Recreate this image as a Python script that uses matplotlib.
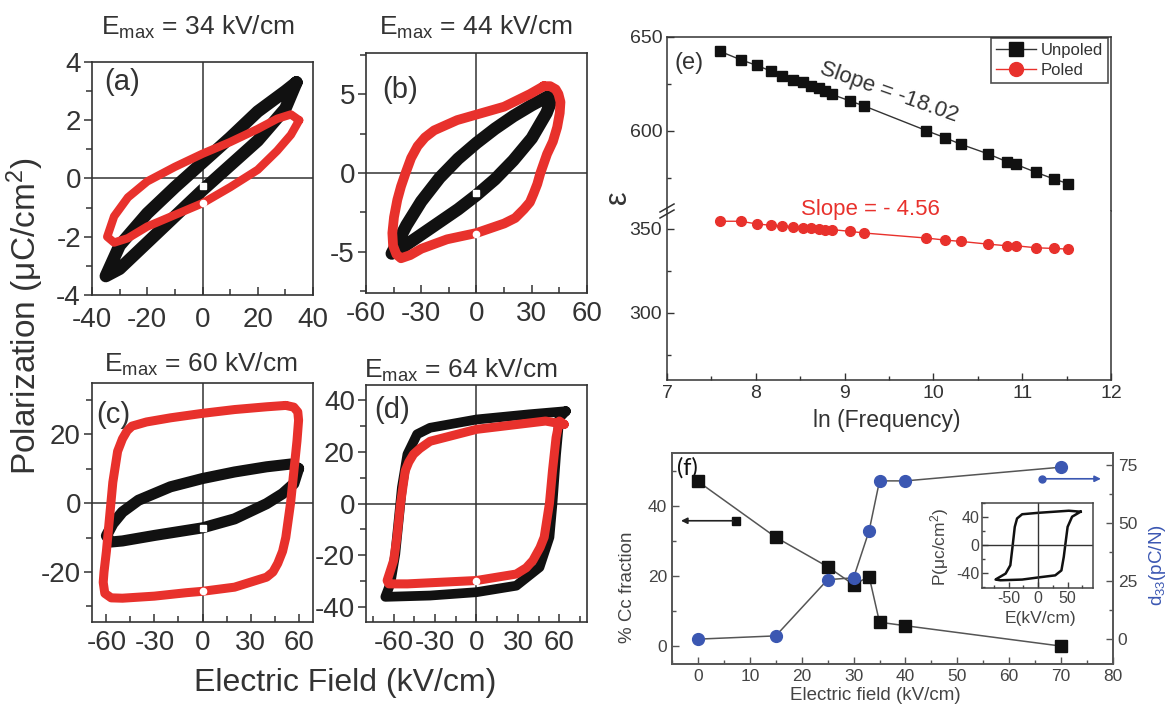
import matplotlib
matplotlib.use("Agg")
import matplotlib.pyplot as plt
from matplotlib.lines import Line2D
from matplotlib.ticker import MultipleLocator

W, H = 1171, 704

plt.rcParams['font.family'] = ['Liberation Sans', 'DejaVu Sans']
plt.rcParams['mathtext.default'] = 'regular'
plt.rcParams['axes.unicode_minus'] = False

RED = '#e8312c'
BLK = '#111111'
BLUE = '#3b57b2'
TXT = '#333333'

# ---------------- data ----------------
# P-E loops, E in kV/cm, P in uC/cm2 ; each list runs round the loop once
a_unp_E = [34, 30, 20, 10, 0, -10, -20, -30, -35, -30, -20, -10, 0, 10, 20, 30, 34]
a_unp_P = [3.3, 3.0, 2.3, 1.4, 0.55, -0.3, -1.2, -2.3, -3.35, -3.1, -2.2, -1.3, -0.4, 0.45, 1.3, 2.4, 3.3]
a_pol_E = [35, 32, 27, 20, 10, 0, -10, -20, -27, -32, -34.5, -32, -27, -20, -10, 0, 10, 20, 27, 32, 35]
a_pol_P = [2.0, 2.2, 2.05, 1.7, 1.25, 0.85, 0.4, -0.1, -0.65, -1.3, -2.0, -2.2, -2.05, -1.65, -1.25,
           -0.85, -0.3, 0.3, 0.95, 1.5, 2.0]

b_unp_E = [42, 38, 30, 20, 10, 0, -10, -20, -30, -38, -46, -40, -30, -20, -10, 0, 10, 20, 30, 38, 42]
b_unp_P = [5.0, 4.8, 4.3, 3.6, 2.8, 1.9, 0.9, -0.3, -1.8, -3.3, -5.1, -4.7, -3.9, -3.1, -2.3, -1.4,
           -0.4, 0.8, 2.2, 3.8, 5.0]
b_pol_E = [36.5, 29, 15, 0, -10.5, -23, -28, -32, -35.5, -38.5, -41, -43, -44.8, -45.7, -45.3, -43.5,
           -41, -36, -30, -16, 0, 15, 21, 25.7, 29, 31, 33, 34.7, 38.3, 41.5, 43.8, 45.2, 45.6, 44.5,
           43, 40, 36.5]
b_pol_P = [5.5, 5.0, 4.2, 3.7, 3.35, 2.7, 2.25, 1.7, 0.95, 0.0, -0.85, -1.7, -2.8, -3.8, -4.6, -5.15,
           -5.4, -5.2, -4.8, -4.2, -3.8, -3.2, -2.85, -2.3, -1.85, -1.3, -0.7, 0.0, 1.2, 2.0, 2.9,
           3.8, 4.5, 5.0, 5.3, 5.5, 5.5]

c_unp_E = [60, 55, 40, 20, 0, -20, -40, -50, -56, -60, -57, -50, -30, 0, 20, 40, 50, 57, 60]
c_unp_P = [10.0, 11.3, 10.5, 9.0, 7.1, 4.7, 0.8, -2.6, -6.0, -9.5, -11.3, -11.0, -9.4, -7.2, -4.6,
           -0.2, 2.7, 5.6, 10.0]
c_pol_E = [52, 40, 20, 0, -20, -35, -44, -47, -50, -53, -56, -58, -60, -61.5, -62, -61, -57, -50,
           -30, -10, 0, 20, 40, 44, 47, 50, 52, 55, 57, 59, 60, 59.5, 57, 52]
c_pol_P = [28.3, 27.9, 27.1, 26.0, 24.7, 23.5, 22.3, 21.0, 18.6, 15.0, 6.0, -4.0, -14.0, -20.0,
           -23.0, -26.2, -27.5, -27.6, -27.0, -26.0, -25.6, -24.4, -21.5, -20.0, -17.5, -14.0,
           -10.0, 0.0, 9.0, 18.0, 24.0, 26.4, 27.8, 28.3]

d_unp_E = [64.7, 38.4, 0, -33.6, -43, -50, -54, -56.4, -58.8, -62.4, -66, -33.6, 0, 28.8, 45.6,
           52.8, 55, 57.6, 60, 64.7]
d_unp_P = [35.6, 34.4, 32.4, 29.2, 26.7, 19, 6.2, -6.7, -19.5, -31, -36, -35.5, -34.2, -31.7,
           -24.6, -13, 0, 19, 33, 35.6]
d_pol_E = [63.5, 50, 0, -33.6, -41, -45.6, -49, -51.6, -55, -57.6, -60, -64.7, -63.5, -50, 0, 28.8,
           36, 40.8, 46, 49, 52.8, 55, 57.6, 60, 63.5]
d_pol_P = [30.5, 31.8, 28.6, 24, 21.2, 19, 16.0, 12.6, 0, -13, -22, -29.7, -31, -31, -29.7, -27.2,
           -24.8, -22, -17, -13, 0, 12.6, 25.4, 31.8, 30.5]

# starting points (white marks at E = 0)
start_unp_P = [-0.25, -1.25, -7.2, None]
start_pol_P = [-0.85, -3.85, -25.6, -29.7]
emax_values = [34, 44, 60, 64]

# (e) permittivity vs ln(frequency)
ln_freq = [7.60, 7.83, 8.01, 8.17, 8.30, 8.42, 8.53, 8.62, 8.71, 8.78, 8.86, 9.06, 9.22,
           9.92, 10.13, 10.31, 10.61, 10.83, 10.93, 11.16, 11.36, 11.52]
eps_unpoled = [642.3, 637.9, 634.9, 631.9, 629.4, 627.2, 625.8, 624.0, 622.6, 621.2, 619.4,
               616.0, 613.3, 600.2, 596.4, 592.9, 587.9, 583.6, 582.2, 577.9, 574.4, 571.9]
eps_poled = [354.6, 354.6, 353.0, 352.2, 351.8, 351.4, 350.8, 350.4, 350.0, 349.6, 349.6,
             348.6, 347.6, 344.6, 343.4, 342.6, 341.0, 340.0, 340.0, 338.8, 338.4, 338.0]

# (f) Cc fraction and d33 vs poling field
pole_field = [0, 15, 25, 30, 33, 35, 40, 70]
cc_fraction = [46.9, 31.0, 22.6, 17.5, 19.8, 6.8, 5.8, 0.0]
d33 = [0.0, 1.4, 25.6, 26.4, 46.7, 68.1, 68.1, 74.0]

# inset P-E loop of (f)
inset_E = [72, 52, 0, -27, -35.6, -39.5, -43, -47, -55, -69.5, -72, -64, -27, 0, 29, 39.5, 43.5,
           46, 50, 57.6, 72]
inset_P = [47.6, 49, 46, 44, 38, 26, 0, -28.6, -40.5, -47.6, -49, -50, -49, -46, -43, -36, -16.7,
           0, 26, 40.5, 47.6]


def px(l, t, r, b):
    # pixel box of the reference -> figure fraction
    return [l / W, 1 - b / H, (r - l) / W, (b - t) / H]


def ftext(x, y, s, **kw):
    fig.text(x / W, 1 - y / H, s, **kw)


def loop_axes(rect, xlim, ylim, xmaj, ymaj, xpad=6):
    ax = fig.add_axes(px(*rect))
    ax.set_xlim(xlim)
    ax.set_ylim(ylim)
    ax.xaxis.set_major_locator(MultipleLocator(xmaj))
    ax.xaxis.set_minor_locator(MultipleLocator(xmaj / 2))
    ax.yaxis.set_major_locator(MultipleLocator(ymaj))
    ax.yaxis.set_minor_locator(MultipleLocator(ymaj / 2))
    ax.tick_params(axis='x', which='both', direction='in', labelsize=20, pad=xpad,
                   labelcolor=TXT, color=TXT)
    ax.tick_params(axis='y', which='both', direction='out', labelsize=20, pad=2,
                   labelcolor=TXT, color=TXT)
    ax.tick_params(which='major', length=6, width=1.1)
    ax.tick_params(which='minor', length=4, width=1.1)
    for s in ax.spines.values():
        s.set_color(TXT)
        s.set_linewidth(1.2)
    ax.axhline(0, color=TXT, lw=1.1, zorder=1)
    ax.axvline(0, color=TXT, lw=1.1, zorder=1)
    return ax


fig = plt.figure(figsize=(W / 100, H / 100), dpi=100)

# ---------------- (a)-(d) hysteresis loops ----------------
loops = [
    ((92, 62, 313, 295), (-40, 40), (-4, 4), 20, 2, a_unp_E, a_unp_P, a_pol_E, a_pol_P, 9, 6, 9),
    ((366, 53, 587, 293), (-60, 60), (-7.6, 7.6), 30, 5, b_unp_E, b_unp_P, b_pol_E, b_pol_P, 9, 7, 6),
    ((92, 383, 313, 622), (-69, 69), (-34.5, 34.8), 30, 20, c_unp_E, c_unp_P, c_pol_E, c_pol_P, 8, 6.5, 6),
    ((366, 385, 587, 622), (-80, 80), (-45.7, 45.7), 30, 20, d_unp_E, d_unp_P, d_pol_E, d_pol_P, 7, 6.5, 6),
]
for i, (rect, xl, yl, xm, ym, uE, uP, pE, pP, lw_u, lw_p, xpad) in enumerate(loops):
    ax = loop_axes(rect, xl, yl, xm, ym, xpad)
    ax.plot(uE, uP, color=BLK, lw=lw_u, solid_joinstyle='round', solid_capstyle='round', zorder=2)
    ax.plot(pE, pP, color=RED, lw=lw_p, solid_joinstyle='round', solid_capstyle='round', zorder=3)
    if start_unp_P[i] is not None:
        ax.plot([0], [start_unp_P[i]], 's', color='white', ms=4, zorder=4)
    ax.plot([0], [start_pol_P[i]], 'o', color='white', ms=4.5, zorder=4)

# titles and panel letters
title_pos = [(198, 35), (476, 35), (201, 372), (461, 378)]
for (x, y), v in zip(title_pos, emax_values):
    ftext(x, y, 'E$_{max}$ = %d kV/cm' % v, fontsize=19, color=TXT, ha='center', va='baseline')
for (x, y), lab in zip([(122, 82), (400, 90), (113, 415), (392, 410)], ['(a)', '(b)', '(c)', '(d)']):
    ftext(x, y, lab, fontsize=21, color=TXT, ha='center', va='center')

ftext(25, 316, 'Polarization (μC/cm$^2$)', fontsize=24, color=TXT, rotation=90,
      ha='center', va='center')
ftext(345, 683, 'Electric Field (kV/cm)', fontsize=23, color=TXT, ha='center', va='center')

# ---------------- (e) permittivity, broken y axis ----------------
ax_t = fig.add_axes(px(667, 37, 1111, 211))
ax_b = fig.add_axes(px(667, 211, 1111, 380))
ax_t.plot(ln_freq, eps_unpoled, color='#333333', lw=1, marker='s', ms=6.5, mfc=BLK, mec=BLK)
ax_b.plot(ln_freq, eps_poled, color=RED, lw=1, marker='o', ms=7, mfc=RED, mec=RED)
ax_t.set_ylim(557.4, 650)
ax_b.set_ylim(260.1, 360.7)
for ax in (ax_t, ax_b):
    ax.set_xlim(7, 12)
    ax.xaxis.set_major_locator(MultipleLocator(1))
    ax.xaxis.set_minor_locator(MultipleLocator(0.5))
    ax.yaxis.set_major_locator(MultipleLocator(50))
    ax.yaxis.set_minor_locator(MultipleLocator(25))
    ax.tick_params(which='both', direction='in', labelsize=14, labelcolor=TXT, color=TXT, width=1)
    ax.tick_params(which='major', length=5)
    ax.tick_params(which='minor', length=3)
    for s in ax.spines.values():
        s.set_color(TXT)
        s.set_linewidth(1.1)
ax_t.spines['bottom'].set_visible(False)
ax_t.tick_params(axis='x', which='both', bottom=False, labelbottom=False)
ax_b.spines['top'].set_visible(False)

# break marks on left spine
for dy in (-3, 3):
    x0, y0 = 667, 211 + dy
    fig.add_artist(Line2D([(x0 - 7) / W, (x0 + 7) / W], [1 - (y0 + 4) / H, 1 - (y0 - 4) / H],
                          color=TXT, lw=1.1))

leg = ax_t.legend(handles=[Line2D([], [], color='#333333', lw=1, marker='s', ms=10, mfc=BLK, mec=BLK),
                           Line2D([], [], color=RED, lw=1, marker='o', ms=10, mfc=RED, mec=RED)],
                  labels=['Unpoled', 'Poled'], loc='upper right', bbox_to_anchor=(0.994, 0.995),
                  borderaxespad=0, fontsize=12, fancybox=False, edgecolor='#222222',
                  handlelength=2.4, handletextpad=0.3, borderpad=0.3, labelspacing=0.3)
leg.get_frame().set_linewidth(1.2)
for t in leg.get_texts():
    t.set_color(TXT)

ftext(689, 63, '(e)', fontsize=17, color=TXT, ha='center', va='center')
ftext(889, 92, 'Slope = -18.02', fontsize=16, color=TXT, rotation=-19.5,
      ha='center', va='center', rotation_mode='anchor')
ftext(870, 209, 'Slope = - 4.56', fontsize=16, color=RED, ha='center', va='center')
ftext(618, 197, 'ε', fontsize=22, color=TXT, rotation=90, ha='center', va='center')
ftext(887, 421, 'ln (Frequency)', fontsize=16.5, color=TXT, ha='center', va='center')

# ---------------- (f) Cc fraction and d33 ----------------
ax_f = fig.add_axes(px(672, 453, 1113, 664))
ax_r = ax_f.twinx()
ax_f.plot(pole_field, cc_fraction, color='#555555', lw=1.1, marker='s', ms=8, mfc=BLK, mec=BLK, zorder=3)
ax_r.plot(pole_field, d33, color='#555555', lw=1.1, marker='o', ms=8.5, mfc=BLUE, mec=BLUE, zorder=3)
ax_f.set_xlim(-5, 80)
ax_f.set_ylim(-5.1, 55)
ax_r.set_ylim(-10.7, 80.1)
ax_f.xaxis.set_major_locator(MultipleLocator(10))
ax_f.xaxis.set_minor_locator(MultipleLocator(5))
ax_f.yaxis.set_major_locator(MultipleLocator(20))
ax_f.yaxis.set_minor_locator(MultipleLocator(10))
ax_r.yaxis.set_major_locator(MultipleLocator(25))
ax_r.yaxis.set_minor_locator(MultipleLocator(12.5))
for ax in (ax_f, ax_r):
    ax.tick_params(which='both', direction='in', labelsize=12.5, labelcolor='#444444',
                   color='#555555', width=1)
    ax.tick_params(which='major', length=5)
    ax.tick_params(which='minor', length=3)
    for s in ax.spines.values():
        s.set_color('#555555')
        s.set_linewidth(1.2)

# direction arrows
ax_f.plot([7.3], [35.7], 's', color=BLK, ms=6)
ax_f.annotate('', xy=(-3.8, 35.7), xytext=(7.3, 35.7),
              arrowprops=dict(arrowstyle='-|>', color='#222222', lw=1.2, mutation_scale=9))
ax_r.plot([66.3], [69.0], 'o', color=BLUE, ms=5)
ax_r.annotate('', xy=(78.2, 69.0), xytext=(66.3, 69.0),
              arrowprops=dict(arrowstyle='-|>', color=BLUE, lw=1.2, mutation_scale=9))

ftext(687, 468, '(f)', fontsize=17, color='#111111', family=['Lato', 'DejaVu Sans'],
      ha='center', va='center')
ftext(628, 587, '% Cc fraction', fontsize=13.5, color='#444444', rotation=90, ha='center', va='center')
ftext(1158, 565, 'd$_{33}$(pC/N)', fontsize=13.5, color=BLUE, rotation=90, ha='center', va='center')
ftext(875, 695, 'Electric field (kV/cm)', fontsize=13.5, color='#444444', ha='center', va='center')

# inset loop
ax_i = fig.add_axes(px(982, 503, 1093, 588))
ax_i.plot(inset_E, inset_P, color=BLK, lw=1.8)
ax_i.axhline(0, color='#333333', lw=1)
ax_i.axvline(0, color='#333333', lw=1)
ax_i.set_xlim(-95, 93)
ax_i.set_ylim(-61, 60)
ax_i.xaxis.set_major_locator(MultipleLocator(50))
ax_i.xaxis.set_minor_locator(MultipleLocator(25))
ax_i.yaxis.set_major_locator(MultipleLocator(40))
ax_i.yaxis.set_minor_locator(MultipleLocator(20))
ax_i.tick_params(which='both', direction='in', labelsize=11.5, labelcolor='#444444',
                 color='#444444', width=1, pad=2)
ax_i.tick_params(which='major', length=4)
ax_i.tick_params(which='minor', length=2.5)
for s in ax_i.spines.values():
    s.set_color('#444444')
    s.set_linewidth(1.1)
ftext(1040, 618, 'E(kV/cm)', fontsize=12.5, color='#444444', ha='center', va='center')
ftext(940, 547, 'P(μc/cm$^2$)', fontsize=12.5, color='#444444', rotation=90, ha='center', va='center')

fig.savefig('out.png', dpi=100)
